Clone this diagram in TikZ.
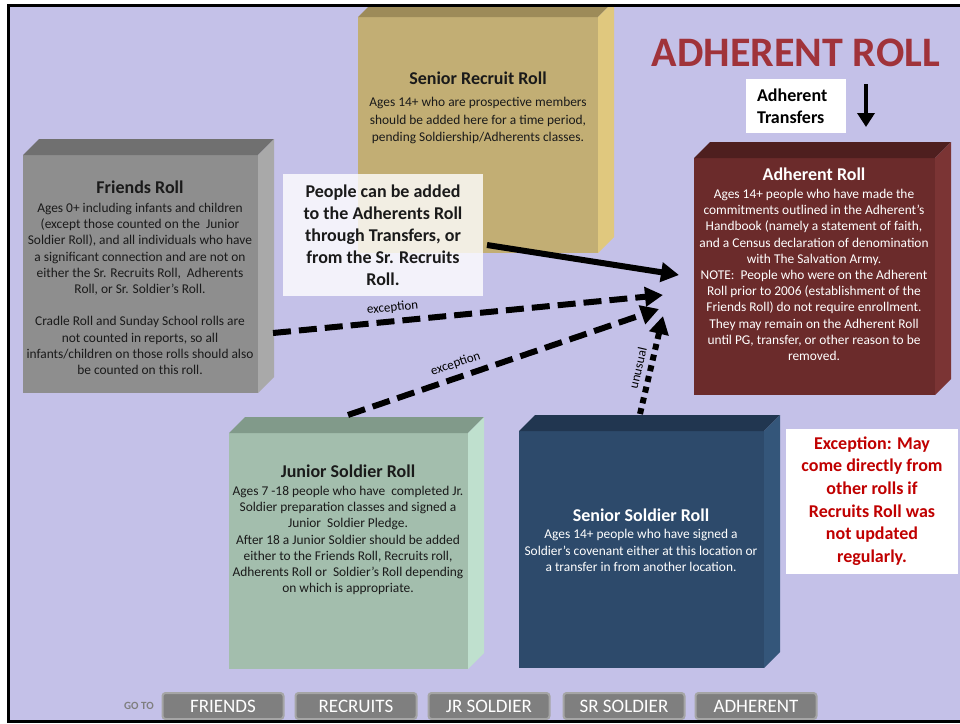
\documentclass[tikz,border=0pt]{standalone}
\usepackage{fontspec}
\setmainfont{Carlito}
\usetikzlibrary{arrows.meta}
\definecolor{bg}{HTML}{C4C1E8}
\definecolor{srF}{HTML}{C2AE74}\definecolor{srT}{HTML}{9D8B59}\definecolor{srR}{HTML}{E0C87E}
\definecolor{frF}{HTML}{8E8E8E}\definecolor{frT}{HTML}{707070}\definecolor{frR}{HTML}{A9A9A9}
\definecolor{adF}{HTML}{6B2B2B}\definecolor{adT}{HTML}{4E1F1F}\definecolor{adR}{HTML}{7B3434}
\definecolor{jrF}{HTML}{A3BEAD}\definecolor{jrT}{HTML}{819A8A}\definecolor{jrR}{HTML}{BFE0CE}
\definecolor{ssF}{HTML}{2D4A6B}\definecolor{ssT}{HTML}{213650}\definecolor{ssR}{HTML}{34567A}
\definecolor{titlered}{HTML}{A0333A}
\definecolor{exred}{HTML}{C00000}
\definecolor{ink}{HTML}{1A1A1A}
\definecolor{btnfill}{HTML}{7F7F7F}
\definecolor{btnedge}{HTML}{A5A5A5}
\newcommand\rollcube[6]{%
  \node[frontface, fill=#6F, minimum width={(#4-#2)*1pt}, minimum height={(#5-#3)*1pt}] (#1) at (#2,#3) {};
  \fill[#6T] (#1.north west) -- ++(16,-16) -- ([shift={(16,-16)}]#1.north east) -- (#1.north east) -- cycle;
  \fill[#6R] (#1.north east) -- ++(16,-16) -- ([shift={(16,-16)}]#1.south east) -- (#1.south east) -- cycle;
}
\tikzset{
  frontface/.style={inner sep=0pt, outer sep=0pt, anchor=north west},
  boxtitle/.style={font=\bfseries\fontsize{18}{22}\selectfont, anchor=north, inner sep=0pt},
  boxbody/.style={font=\fontsize{13.4}{16.2}\selectfont, align=center, anchor=north, inner sep=0pt},
  fatarrow/.style={line width=6pt, -{Triangle[length=18pt,width=19pt]}},
  dasharrow/.style={fatarrow, dash pattern=on 18pt off 8pt},
  dotarrow/.style={fatarrow, dash pattern=on 6pt off 5pt},
  arrowlabel/.style={font=\fontsize{13}{15}\selectfont, sloped, above=5pt, inner sep=0pt},
  btn/.style={fill=btnfill, draw=btnedge, line width=2pt, rounded corners=3pt, minimum width=121pt, minimum height=26pt, inner sep=0pt, text=white, font=\fontsize{19}{22}\selectfont},
}
\begin{document}
\begin{tikzpicture}[x=1pt,y=-1pt]
\useasboundingbox (0,0) rectangle (960,723);
\fill[white] (0,0) rectangle (960,723);
\fill[bg] (9,6) rectangle (962,721);

\begin{scope}
\clip (9,6) rectangle (962,721);
\rollcube{sr}{358}{17}{598}{253}{sr}
\end{scope}
\rollcube{fr}{23}{155}{258}{393}{fr}
\rollcube{ad}{694}{158}{935}{395}{ad}
\rollcube{jr}{229}{433}{468}{669}{jr}
\rollcube{ss}{519}{431}{764}{668}{ss}

% texts in boxes
\node[boxtitle, text=ink] (srtitle) at (478,72) {Senior Recruit Roll};
\node[boxbody, text=ink, font=\fontsize{13.4}{17.5}\selectfont] (srbody) at (478,97) {Ages 14+ who are prospective members\\should be added here for a time period,\\pending Soldiership/Adherents classes.};

\node[boxtitle, text=ink] (frtitle) at (140,181) {Friends Roll};
\node[boxbody, text=ink] (frbody) at (140,203) {Ages 0+ including infants and children\\(except those counted on the~ Junior\\Soldier Roll), and all individuals who have\\a significant connection and are not on\\either the Sr. Recruits Roll,~ Adherents\\Roll, or Sr. Soldier’s Roll.\\[16.2pt]Cradle Roll and Sunday School rolls are\\not counted in reports, so all\\infants/children on those rolls should also\\be counted on this roll.};

\node[boxtitle, text=white] (adtitle) at (814,168) {Adherent Roll};
\node[boxbody, text=white] (adbody) at (814,189) {Ages 14+ people who have made the\\commitments outlined in the Adherent’s\\Handbook (namely a statement of faith,\\and a Census declaration of denomination\\with The Salvation Army.\\NOTE:~ People who were on the Adherent\\Roll prior to 2006 (establishment of the\\Friends Roll) do not require enrollment.\\They may remain on the Adherent Roll\\until PG, transfer, or other reason to be\\removed.};

\node[boxtitle, text=ink] (jrtitle) at (348,465) {Junior Soldier Roll};
\node[boxbody, text=ink] (jrbody) at (348,486) {Ages 7 -18 people who have~ completed Jr.\\Soldier preparation classes and signed a\\Junior~ Soldier Pledge.\\After 18 a Junior Soldier should be added\\either to the Friends Roll, Recruits roll,\\Adherents Roll or~ Soldier’s Roll depending\\on which is appropriate.};

\node[boxtitle, text=white] (sstitle) at (641,509) {Senior Soldier Roll};
\node[boxbody, text=white, font=\fontsize{13.4}{16.5}\selectfont] (ssbody) at (641,529) {Ages 14+ people who have signed a\\Soldier’s covenant either at this location or\\a transfer in from another location.};

% callout
\node[fill=white, fill opacity=0.8, text opacity=1, text=ink, minimum width=200pt, minimum height=122pt, inner sep=0pt, align=center, font=\bfseries\fontsize{18}{22}\selectfont] (note) at (383,235) {People can be added\\to the Adherents Roll\\through Transfers, or\\from the Sr. Recruits\\Roll.};

% title and transfers
\node[text=titlered, font=\bfseries\fontsize{42}{50}\selectfont, inner sep=0pt] (title) at (796,53) {ADHERENT ROLL};
\node[fill=white, minimum height=54pt, inner xsep=11pt, inner ysep=0pt, text width=78pt, align=left, text=black, font=\bfseries\fontsize{18}{22}\selectfont] (transfers) at (796,106) {Adherent\\Transfers};
\coordinate (trtop) at (866,84);
\coordinate (trbot) at (866,127);
\draw[line width=4pt, -{Triangle[length=14pt,width=17pt]}] (trtop) -- (trbot);

% exception box
\node[fill=white, minimum width=172pt, minimum height=145pt, inner sep=0pt, align=center, text=exred, font=\bfseries\fontsize{18}{22.6}\selectfont] (except) at (872,501) {Exception: May\\come directly from\\other rolls if\\Recruits Roll was\\not updated\\regularly.};

% arrows
\coordinate (a1s) at (487,245);
\coordinate (a1e) at (679,275);
\coordinate (a2s) at (273,333);
\coordinate (a2e) at (663,295);
\coordinate (a3s) at (348,415);
\coordinate (a3e) at (659,309);
\coordinate (a4s) at (640,414);
\coordinate (a4e) at (663,316);
\draw[fatarrow] (a1s) -- (a1e);
\draw[dasharrow] (a2s) -- node[arrowlabel, pos=0.31] {exception} (a2e);
\draw[dasharrow] (a3s) -- node[arrowlabel, pos=0.36] {exception} (a3e);
\draw[dotarrow] (a4s) -- node[arrowlabel, pos=0.44] {unusual} (a4e);

% buttons
\node[text=btnfill, font=\bfseries\fontsize{11}{13}\selectfont, inner sep=0pt] (goto) at (139,706) {GO TO};
\node[btn] (bfr) at (223,706) {FRIENDS};
\node[btn] (brc) at (356,706) {RECRUITS};
\node[btn] (bjr) at (489,706) {JR SOLDIER};
\node[btn] (bsr) at (624,706) {SR SOLDIER};
\node[btn] (bad) at (756,706) {ADHERENT};

% border
\draw[line width=3pt, line cap=rect] (962,5.5) -- (8,5.5) -- (8,721) -- (962,721);
\end{tikzpicture}
\end{document}
